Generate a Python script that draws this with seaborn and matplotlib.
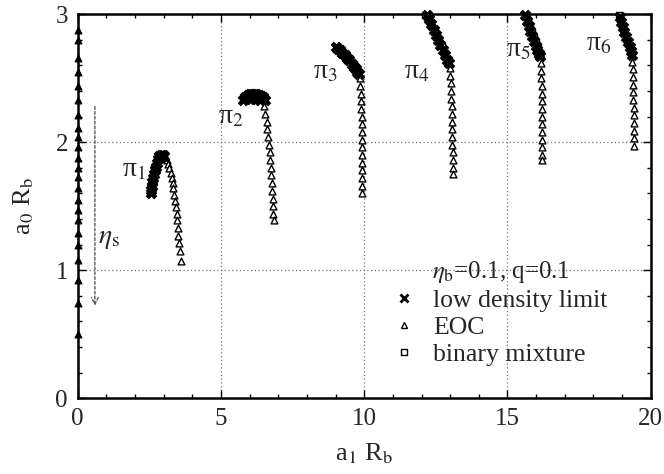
import numpy as np
import pandas as pd
import matplotlib
matplotlib.use("Agg")
import matplotlib.pyplot as plt
from matplotlib.lines import Line2D
import seaborn as sns

# ---- data: (a1 R_b, a0 R_b) for each pi-branch ----
# low density limit
ld_a1 = {
    1: [2.55, 2.57, 2.59, 2.61, 2.63, 2.66, 2.69, 2.72, 2.76, 2.80, 2.85, 2.91, 2.97, 3.02],
    2: [5.78, 5.85, 5.93, 6.00, 6.08, 6.16, 6.24, 6.32, 6.40, 6.47, 6.53, 6.35, 6.20, 6.05],
    3: [9.00, 9.08, 9.16, 9.24, 9.32, 9.40, 9.48, 9.56, 9.63, 9.70, 9.76, 9.82],
    4: [12.20, 12.27, 12.34, 12.42, 12.50, 12.58, 12.66, 12.74, 12.82, 12.90, 12.95],
    5: [15.62, 15.68, 15.74, 15.80, 15.86, 15.92, 15.98, 16.04, 16.10, 16.15],
    6: [18.92, 18.97, 19.02, 19.08, 19.14, 19.20, 19.26, 19.31, 19.35],
}
ld_a0 = {
    1: [1.60, 1.63, 1.66, 1.69, 1.72, 1.75, 1.78, 1.81, 1.84, 1.87, 1.89, 1.90, 1.90, 1.89],
    2: [2.33, 2.35, 2.37, 2.38, 2.38, 2.38, 2.38, 2.37, 2.36, 2.35, 2.33, 2.33, 2.34, 2.34],
    3: [2.74, 2.73, 2.72, 2.70, 2.68, 2.66, 2.64, 2.61, 2.59, 2.57, 2.55, 2.53],
    4: [2.99, 2.96, 2.92, 2.88, 2.84, 2.80, 2.76, 2.72, 2.68, 2.64, 2.62],
    5: [2.99, 2.95, 2.91, 2.87, 2.83, 2.79, 2.75, 2.72, 2.69, 2.67],
    6: [2.98, 2.94, 2.90, 2.86, 2.82, 2.78, 2.74, 2.71, 2.68],
}

# binary mixture
bm_a1 = {
    1: [2.60, 2.68, 2.78, 2.90, 3.00],
    2: [5.90, 6.10, 6.30, 6.45],
    3: [9.05, 9.20, 9.35, 9.50, 9.65, 9.78],
    4: [12.22, 12.30, 12.38, 12.46, 12.54, 12.62, 12.70, 12.80, 12.90],
    5: [15.63, 15.70, 15.77, 15.84, 15.91, 15.98, 16.05, 16.12],
    6: [18.90, 18.93, 18.97, 19.01, 19.06, 19.12, 19.18, 19.25, 19.31],
}
bm_a0 = {
    1: [1.65, 1.80, 1.85, 1.90, 1.89],
    2: [2.35, 2.38, 2.38, 2.36],
    3: [2.73, 2.71, 2.68, 2.65, 2.60, 2.55],
    4: [2.98, 2.94, 2.90, 2.86, 2.82, 2.79, 2.75, 2.70, 2.65],
    5: [2.98, 2.94, 2.90, 2.86, 2.82, 2.78, 2.74, 2.70],
    6: [2.99, 2.96, 2.93, 2.90, 2.87, 2.83, 2.79, 2.75, 2.71],
}

# EOC
eoc_a1 = {
    0: [0.0] * 23,
    1: [3.05, 3.10, 3.15, 3.20, 3.24, 3.28, 3.31, 3.34, 3.37, 3.40, 3.42, 3.45, 3.47, 3.49, 3.51, 3.54, 3.57, 3.62],
    2: [6.50, 6.55, 6.59, 6.62, 6.65, 6.68, 6.70, 6.72, 6.74, 6.76, 6.77, 6.79, 6.80, 6.81, 6.83, 6.85],
    3: [9.85, 9.87, 9.88, 9.89, 9.90, 9.91, 9.92, 9.92, 9.93, 9.93, 9.94, 9.94, 9.94, 9.94, 9.93, 9.93],
    4: [12.98, 13.00, 13.02, 13.03, 13.04, 13.05, 13.06, 13.07, 13.07, 13.08, 13.08, 13.09, 13.09, 13.09, 13.10],
    5: [16.16, 16.17, 16.18, 16.19, 16.19, 16.20, 16.20, 16.21, 16.21, 16.21, 16.21, 16.22, 16.22, 16.22],
    6: [19.36, 19.37, 19.38, 19.38, 19.39, 19.39, 19.40, 19.40, 19.40, 19.40, 19.40, 19.40],
}
eoc_a0 = {
    0: [2.88, 2.80, 2.66, 2.55, 2.44, 2.33, 2.21, 2.11, 2.04, 1.96, 1.88, 1.80,
        1.73, 1.64, 1.55, 1.47, 1.39, 1.29, 1.20, 1.08, 0.92, 0.74, 0.50],
    1: [1.88, 1.86, 1.83, 1.80, 1.76, 1.72, 1.68, 1.64, 1.59, 1.54, 1.49, 1.44, 1.39, 1.33, 1.27, 1.21, 1.15, 1.07],
    2: [2.28, 2.22, 2.16, 2.10, 2.04, 1.98, 1.92, 1.86, 1.80, 1.74, 1.68, 1.62, 1.56, 1.50, 1.44, 1.39],
    3: [2.50, 2.44, 2.38, 2.32, 2.26, 2.20, 2.14, 2.08, 2.02, 1.96, 1.90, 1.84, 1.78, 1.72, 1.66, 1.60],
    4: [2.58, 2.52, 2.46, 2.40, 2.34, 2.28, 2.22, 2.16, 2.10, 2.04, 1.98, 1.92, 1.86, 1.80, 1.75],
    5: [2.62, 2.56, 2.50, 2.44, 2.38, 2.32, 2.26, 2.20, 2.14, 2.08, 2.02, 1.96, 1.90, 1.86],
    6: [2.63, 2.57, 2.51, 2.45, 2.39, 2.33, 2.27, 2.21, 2.15, 2.09, 2.03, 1.97],
}

# branch labels and where they sit
branch_names = [r"π$_1$", r"π$_2$", r"π$_3$", r"π$_4$", r"π$_5$", r"π$_6$"]
label_a1 = [1.95, 5.35, 8.65, 11.85, 15.4, 18.2]
label_a0 = [1.78, 2.20, 2.55, 2.55, 2.72, 2.77]

legend_title = r"$\eta_\mathrm{b}$=0.1, q=0.1"
legend_labels = ["low density limit", "EOC", "binary mixture"]


def frame(a1, a0):
    rows = []
    for k in a1:
        for x, y in zip(a1[k], a0[k]):
            rows.append({"a1": x, "a0": y, "branch": k})
    return pd.DataFrame(rows)


df_ld = frame(ld_a1, ld_a0)
df_bm = frame(bm_a1, bm_a0)
df_eoc = frame(eoc_a1, eoc_a0)

sns.set_theme(style="ticks")
plt.rcParams["font.family"] = ["Liberation Serif", "DejaVu Serif"]
plt.rcParams["mathtext.fontset"] = "stix"

fig = plt.figure(figsize=(6.64, 4.74), dpi=100)
ax = fig.add_axes([0.117, 0.160, 0.863, 0.810])

# EOC on the a1 = 0 axis
sns.scatterplot(data=df_eoc[df_eoc.branch == 0], x="a1", y="a0", marker="^",
                s=24, color="black", edgecolor="black", linewidth=0.8,
                ax=ax, clip_on=False, zorder=5, legend=False)
# EOC branches
sns.scatterplot(data=df_eoc[df_eoc.branch > 0], x="a1", y="a0", marker="^",
                s=24, facecolor="white", edgecolor="black", linewidth=1.0,
                ax=ax, clip_on=False, zorder=3, legend=False)
# binary mixture
sns.scatterplot(data=df_bm, x="a1", y="a0", marker="s",
                s=22, facecolor="white", edgecolor="black", linewidth=1.0,
                ax=ax, clip_on=False, zorder=4, legend=False)
# low density limit
sns.scatterplot(data=df_ld, x="a1", y="a0", marker="X",
                s=60, color="black", edgecolor="black", linewidth=0.5,
                ax=ax, clip_on=False, zorder=4, legend=False)

for name, x, y in zip(branch_names, label_a1, label_a0):
    ax.text(x, y, name, fontsize=20, ha="center", va="center")

# eta_s direction arrow
ax.annotate("", xy=(0.6, 0.70), xytext=(0.6, 2.3),
            arrowprops=dict(arrowstyle="->", linestyle=(0, (2, 1.5)),
                            color="0.35", lw=1.0))
ax.text(0.72, 1.25, r"$\eta_\mathrm{s}$", fontsize=20, ha="left", va="center")

ax.set_xlim(0, 20)
ax.set_ylim(0, 3)
ax.set_xticks([0, 5, 10, 15, 20])
ax.set_yticks([0, 1, 2, 3])
ax.set_xticks(np.arange(0, 21, 1), minor=True)
ax.set_yticks(np.arange(0, 3.01, 0.2), minor=True)
ax.tick_params(which="both", direction="in", top=True, right=True, labelsize=18,
               color="black", width=1.0)
ax.tick_params(which="major", length=6, pad=7)
ax.tick_params(which="minor", length=3)
for sp in ax.spines.values():
    sp.set_linewidth(1.8)
    sp.set_color("black")
ax.grid(True, which="major", linestyle=(0, (1, 2)), color="0.45", linewidth=0.9)

ax.set_xlabel(r"a$_1$ R$_\mathrm{b}$", fontsize=19, labelpad=8)
ax.set_ylabel(r"a$_0$ R$_\mathrm{b}$", fontsize=19, labelpad=14)

handles = [
    Line2D([], [], linestyle="none", marker="x", color="black", markersize=6, markeredgewidth=2),
    Line2D([], [], linestyle="none", marker="^", markerfacecolor="white",
           markeredgecolor="black", markersize=5),
    Line2D([], [], linestyle="none", marker="s", markerfacecolor="white",
           markeredgecolor="black", markersize=5),
]
leg = ax.legend(handles, legend_labels, title=legend_title, loc="lower right",
                frameon=False, fontsize=18.5, title_fontsize=18, handlelength=0.7,
                handletextpad=0.8, labelspacing=0.15, borderaxespad=0.0,
                borderpad=0.0, bbox_to_anchor=(0.925, 0.085))

fig.savefig("out.png", dpi=100)
